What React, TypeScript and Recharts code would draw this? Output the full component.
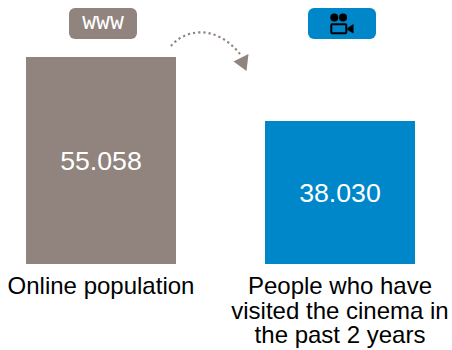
import React from "react";
import { BarChart, Bar, XAxis, YAxis, Cell, LabelList } from "recharts";

const categories = ["Online population", "People who have visited the cinema in the past 2 years"];
const values = [55.058, 38.03];
const categoryLines = [["Online population"], ["People who have", "visited the cinema in", "the past 2 years"]];
const colors = ["#91837e", "#0087c9"];
const rows = categories.map((name, i) => ({ name, value: values[i] }));
const FONT = '"Liberation Sans", Arial, sans-serif';

function CategoryTick({ x, payload }: any) {
  const lines = categoryLines[payload.index] ?? [payload.value];
  return (
    <text x={x + 0.5} textAnchor="middle" fontFamily={FONT} fontSize={24} fill="#000">
      {lines.map((line: string, i: number) => (
        <tspan key={line} x={x + 0.5} y={294 + i * 24.5}>{line}</tspan>
      ))}
    </text>
  );
}

function Badge({ x, width, index }: any) {
  const cx = x + width / 2;
  const top = 8;
  return (
    <g>
      <rect x={cx - 32} y={top} width={68} height={31} rx={6} fill={colors[index]} />
      {index === 0 ? (
        <text x={cx + 2} y={top + 21} textAnchor="middle" fontFamily='"DejaVu Sans Mono", monospace' fontSize={23} fill="#fff">www</text>
      ) : (
        <g fill="#000">
          <circle cx={cx - 5.7} cy={17.4} r={4} />
          <circle cx={cx + 3} cy={17.4} r={4} />
          <rect x={cx - 8.7} y={24.2} width={15} height={9} rx={1} fill="none" stroke="#000" strokeWidth={2} />
          <path d={`M${cx + 7.5} 28 L${cx + 13.5} 24 V33.5 L${cx + 7.5} 30 Z`} />
        </g>
      )}
    </g>
  );
}

export default function App() {
  return (
    <div style={{ position: "absolute", left: 0, top: 0, width: 452, height: 350 }}>
      <BarChart width={452} height={350} data={rows} margin={{ top: 57, right: 0, bottom: 0, left: 0 }}>
        <XAxis dataKey="name" scale="point" padding={{ left: 100.5, right: 112.5 }} axisLine={false} tickLine={false} interval={0} tick={<CategoryTick />} height={86} />
        <YAxis hide domain={[0, 55.058]} />
        <Bar dataKey="value" barSize={150} isAnimationActive={false}>
          {rows.map((row, i) => <Cell key={row.name} fill={colors[i]} />)}
          <LabelList dataKey="value" position="center" fill="#fff" fontFamily={FONT} fontSize={26.7} formatter={(v: any) => Number(v).toFixed(3)} />
          <LabelList dataKey="value" content={(p: any) => <Badge {...p} />} />
        </Bar>
      </BarChart>
      <svg width={452} height={350} style={{ position: "absolute", left: 0, top: 0, pointerEvents: "none" }}>
        <path d="M171 46 C183 31 214 22 240 54" fill="none" stroke="#91837e" strokeWidth={2.2} strokeDasharray="2.2 3" />
        <path d="M248.5 54 L233.5 61.5 L246.5 71 Z" fill="#91837e" />
      </svg>
    </div>
  );
}
